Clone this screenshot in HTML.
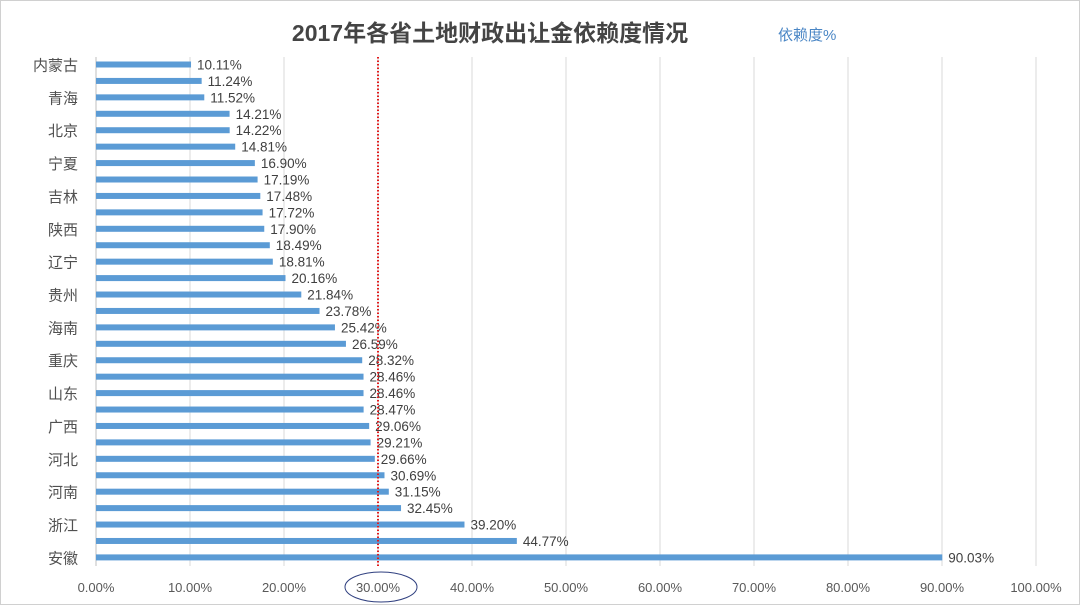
<!DOCTYPE html>
<html><head><meta charset="utf-8"><style>
html,body{margin:0;padding:0;background:#fff;}
svg{display:block;font-family:"Liberation Sans","Noto Sans CJK SC",sans-serif;}
</style></head><body>
<svg id="c" width="1080" height="605" viewBox="0 0 1080 605">
<rect x="0.5" y="0.5" width="1079" height="604" fill="#fff" stroke="#d0d0d0"/>
<text x="490" y="41" text-anchor="middle" font-size="23" font-weight="bold" fill="#444">2017年各省土地财政出让金依赖度情况</text>
<text x="778" y="40" font-size="15" fill="#4a86c5">依赖度%</text>
<g id="grid"></g><g id="bars"></g>
</svg>
<script>
const categories=["内蒙古","","青海","","北京","","宁夏","","吉林","","陕西","","辽宁","","贵州","","海南","","重庆","","山东","","广西","","河北","","河南","","浙江","","安徽"];
const values=[10.11,11.24,11.52,14.21,14.22,14.81,16.90,17.19,17.48,17.72,17.90,18.49,18.81,20.16,21.84,23.78,25.42,26.59,28.32,28.46,28.46,28.47,29.06,29.21,29.66,30.69,31.15,32.45,39.20,44.77,90.03];
const ticks=[0,10,20,30,40,50,60,70,80,90,100];
const refLine=30;
const NS="http://www.w3.org/2000/svg";
const x=v=>96+v*9.4;
const y=i=>64.5+i*16.43;
function mk(t,a,p,txt){const e=document.createElementNS(NS,t);for(const k in a)e.setAttribute(k,a[k]);if(txt!==undefined)e.textContent=txt;p.appendChild(e);return e;}
const g=document.getElementById('grid'),b=document.getElementById('bars');
ticks.forEach(t=>{
 const l=mk('line',{x1:x(t),x2:x(t),y1:57,y2:566,stroke:t===0?'#bfbfbf':'#d9d9d9','stroke-width':1},g);
 
 
 const tx=mk('text',{x:x(t),y:592,'text-anchor':'middle','font-size':13,fill:'#595959'},g,t.toFixed(2)+'%');
 
 
});
values.forEach((v,i)=>{
 const r=mk('rect',{x:x(0),y:y(i)-3,width:x(v)-x(0),height:6,fill:'#5b9bd5'},b);
 
 
 const t=mk('text',{x:x(v)+6,y:y(i)+5,'font-size':13.5,fill:'#404040'},b,v.toFixed(2)+'%');
 
 
 if(categories[i]){
  const c=mk('text',{x:78,y:y(i)+6,'text-anchor':'end','font-size':15,fill:'#505050'},b,categories[i]);
  
  
 }
});
const rl=mk('line',{x1:x(refLine),x2:x(refLine),y1:57,y2:566,stroke:'#e31a1c','stroke-width':2,'stroke-dasharray':'1.5,2'},b);


const el=mk('ellipse',{cx:x(refLine)+3,cy:587,rx:36,ry:15,fill:'none',stroke:'#2f3f7f','stroke-width':1},b);


</script>
</body></html>
